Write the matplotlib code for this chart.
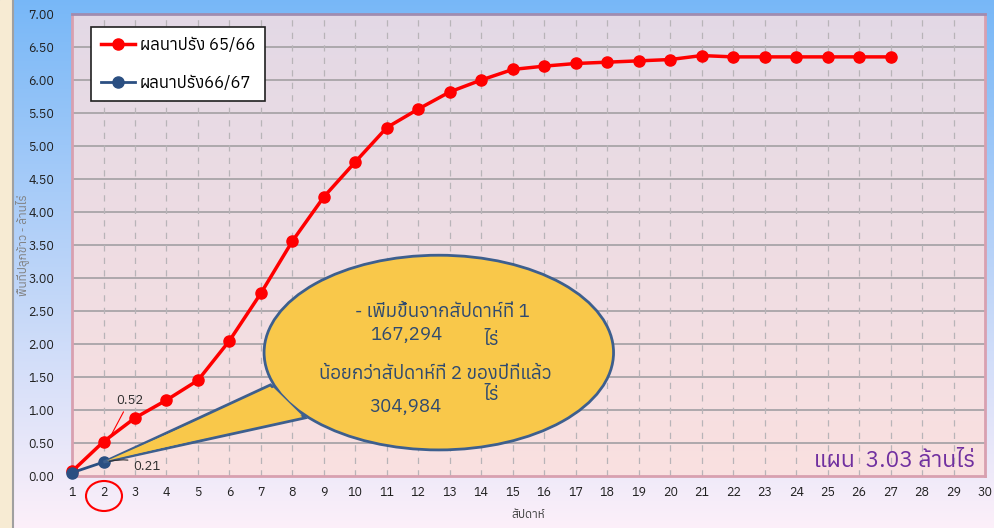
import numpy as np
import matplotlib
matplotlib.use("Agg")
import matplotlib.pyplot as plt
from matplotlib import font_manager
from matplotlib.patches import Ellipse, Polygon
from matplotlib.lines import Line2D

# find a font that has Thai glyphs
thai_fams = []
for f in font_manager.fontManager.ttflist:
    try:
        ft = matplotlib.ft2font.FT2Font(f.fname)
        if ft.get_char_index(0x0E01):
            thai_fams.append(f.name)
    except Exception:
        pass
thai_fams = sorted(set(thai_fams))
plt.rcParams['font.family'] = thai_fams[:1] + ['DejaVu Sans']

weeks = list(range(1, 28))
y6566 = [0.07, 0.52, 0.88, 1.15, 1.45, 2.05, 2.77, 3.56, 4.23, 4.76, 5.28, 5.56,
         5.82, 6.00, 6.16, 6.21, 6.25, 6.27, 6.29, 6.31, 6.37, 6.35, 6.35, 6.35,
         6.35, 6.35, 6.35]
weeks67 = [1, 2]
y6667 = [0.05, 0.21]
labels = ["ผลนาปรัง 65/66", "ผลนาปรัง66/67"]
xticks = list(range(1, 31))
yticks = np.arange(0, 7.01, 0.5)

fig = plt.figure(figsize=(9.95, 5.28), dpi=100)

# background gradient
bg = fig.add_axes([0, 0, 1, 1], zorder=-10)
top = np.array([0.47, 0.72, 0.97])
bot = np.array([0.99, 0.94, 0.98])
t = np.linspace(0, 1, 200)[:, None]
grad = top * (1 - t) + bot * t
bg.imshow(grad[:, None, :].repeat(2, axis=1), aspect='auto', extent=[0, 1, 0, 1])
bg.axvspan(0, 0.012, color='#f7ebd3')
bg.axvline(0.013, color='#a0a0a0', lw=1.5)
bg.set_xlim(0, 1)
bg.set_ylim(0, 1)
bg.axis('off')

ax = fig.add_axes([0.0724, 0.0985, 0.9176, 0.875])
ax.set_xlim(1, 30)
ax.set_ylim(0, 7)

# plot-area gradient
ptop = np.array([0.89, 0.85, 0.90])
pbot = np.array([0.98, 0.88, 0.88])
pg = ptop * (1 - t) + pbot * t
ax.imshow(pg[:, None, :].repeat(2, axis=1), aspect='auto', extent=[1, 30, 0, 7], zorder=0)

for yv in yticks[1:-1]:
    ax.axhline(yv, color='#a8a4a8', lw=1.3, zorder=1)
for xv in xticks[1:-1]:
    ax.axvline(xv, color='#b8b4b8', lw=0.9, ls=(0, (5, 5)), zorder=1)

for s in ax.spines.values():
    s.set_color('#d8a0b0')
    s.set_linewidth(2)
ax.spines['top'].set_color('#a08cb0')

ax.plot(weeks, y6566, color='#ff0000', lw=2.5, marker='o', ms=8, zorder=4, clip_on=False)
ax.plot(weeks67, y6667, color='#2b4f82', lw=2, marker='o', ms=8, zorder=5, clip_on=False)

# callout bubble
fill = '#f9c84a'
edge = '#3d5f8e'
tail = Polygon([(weeks67[1], y6667[1]), (7.3, 1.38), (8.4, 0.88)], closed=True,
               facecolor=fill, edgecolor=edge, lw=2, zorder=6)
ax.add_patch(tail)
ell = Ellipse((12.65, 1.87), 11.1, 2.95, facecolor=fill, edgecolor=edge, lw=2, zorder=6)
ax.add_patch(ell)
tail2 = Polygon([(weeks67[1] + 0.1, y6667[1] + 0.02), (7.4, 1.34), (8.3, 0.92)], closed=True,
                facecolor=fill, edgecolor='none', zorder=7)
ax.add_patch(tail2)

tc = '#2f4a70'
fs = 13.5
ax.text(12.75, 2.48, "- เพิ่มขึ้นจากสัปดาห์ที่ 1", ha='center', va='center', fontsize=fs, color=tc, zorder=8)
ax.text(11.6, 2.13, "167,294", ha='center', va='center', fontsize=fs, color=tc, zorder=8)
ax.text(14.3, 2.06, "ไร่", ha='center', va='center', fontsize=fs, color=tc, zorder=8)
ax.text(12.55, 1.55, "น้อยกว่าสัปดาห์ที่ 2 ของปีที่แล้ว", ha='center', va='center', fontsize=fs, color=tc, zorder=8)
ax.text(11.6, 1.04, "304,984", ha='center', va='center', fontsize=fs, color=tc, zorder=8)
ax.text(14.3, 1.23, "ไร่", ha='center', va='center', fontsize=fs, color=tc, zorder=8)

# point labels
ax.annotate("0.52", xy=(weeks[1] + 0.2, y6566[1] + 0.06), xytext=(2.4, 1.15), fontsize=9.5,
            color='#303030', ha='left', va='center',
            arrowprops=dict(arrowstyle='-', color='#ff0000', lw=0.8), zorder=8)
ax.annotate("0.21", xy=(weeks67[1] + 0.1, y6667[1]), xytext=(2.95, 0.15), fontsize=9.5,
            color='#303030', ha='left', va='center',
            arrowprops=dict(arrowstyle='-', color='#303030', lw=0.8,
                            connectionstyle='arc3,rad=0.2'), zorder=8)

ax.text(29.68, 0.22, "แผน  3.03 ล้านไร่", ha='right', va='center', fontsize=16.5,
        color='#7030a0', zorder=8)

ax.set_xticks(xticks)
ax.set_yticks(yticks)
ax.set_yticklabels([f"{v:.2f}" for v in yticks])
ax.tick_params(axis='both', labelsize=9, colors='#202020', length=0, pad=7)
ax.tick_params(axis='y', pad=13)

ax.set_xlabel("สัปดาห์", fontsize=8.5, color='#404040', labelpad=8)
ax.set_ylabel("พื้นที่ปลูกข้าว - ล้านไร่", fontsize=8.5, color='#808080')
ax.yaxis.set_label_coords(-0.047, 0.5)

# red circle around week 2
circ = Ellipse((104 / 995, 32 / 528), 36 / 995, 30 / 528, transform=fig.transFigure,
               facecolor='none', edgecolor='#ff0000', lw=1.5)
fig.patches.append(circ)

handles = [Line2D([], [], color='#ff0000', lw=2.5, marker='o', ms=8),
           Line2D([], [], color='#2b4f82', lw=2, marker='o', ms=8)]
leg = ax.legend(handles, labels, loc='upper left', bbox_to_anchor=(0.021, 0.972),
                fontsize=12, frameon=True, fancybox=False, edgecolor='#202020',
                framealpha=1, labelspacing=1.3, handlelength=2, handletextpad=0.3,
                borderpad=0.6, borderaxespad=0)
leg.get_frame().set_linewidth(1.2)
leg.set_zorder(9)

fig.savefig("out.png", dpi=100)
